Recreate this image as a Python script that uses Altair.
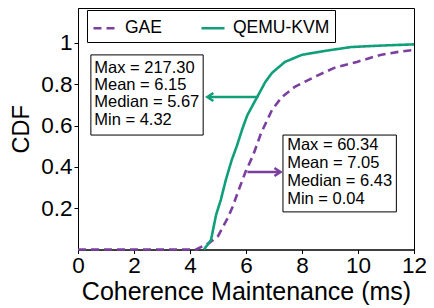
import altair as alt
import pandas as pd

# ---- data ----
series_names = ["GAE", "QEMU-KVM"]
series_colors = ["#7b3fa0", "#119e7a"]

gae_x = [0, 4.22, 4.68, 5.0, 5.35, 5.52, 5.74, 5.98, 6.26, 6.54, 6.76, 6.93, 7.28, 7.74, 8.44, 9.15, 9.96, 10.80, 11.5, 12.0]
gae_y = [0, 0, 0.031, 0.065, 0.153, 0.206, 0.288, 0.375, 0.458, 0.564, 0.627, 0.676, 0.738, 0.787, 0.835, 0.879, 0.908, 0.942, 0.958, 0.966]

qemu_x = [4.5, 4.75, 4.93, 5.10, 5.28, 5.49, 5.67, 5.88, 6.05, 6.40, 6.69, 6.93, 7.39, 7.99, 8.80, 9.75, 10.80, 12.0]
qemu_y = [0, 0.046, 0.167, 0.24, 0.337, 0.433, 0.50, 0.588, 0.651, 0.738, 0.811, 0.855, 0.908, 0.942, 0.961, 0.98, 0.987, 0.993]

x_ticks = [0, 2, 4, 6, 8, 10, 12]
y_ticks = [0.2, 0.4, 0.6, 0.8, 1]

qemu_stats = ["Max = 217.30", "Mean = 6.15", "Median = 5.67", "Min = 4.32"]
gae_stats = ["Max = 60.34", "Mean = 7.05", "Median = 6.43", "Min = 0.04"]

FONT = "Liberation Sans"

lines_df = pd.DataFrame(
    {"x": gae_x + qemu_x, "y": gae_y + qemu_y,
     "series": ["GAE"] * len(gae_x) + ["QEMU-KVM"] * len(qemu_x)}
)

xs = alt.Scale(domain=[0, 12], nice=False)
ys = alt.Scale(domain=[0, 1.169], nice=False)

def make_legend():
    return alt.Legend(title=None, orient="none", legendX=9, legendY=2,
                      direction="horizontal", symbolType="stroke",
                      symbolSize=530, symbolStrokeWidth=2.6,
                      labelFontSize=17.5, labelFont=FONT, labelOffset=7,
                      columnPadding=34, padding=5, strokeColor="black",
                      fillColor="white", labelColor="black")

lines = alt.Chart(lines_df).mark_line(strokeWidth=2.6).encode(
    x=alt.X("x:Q", scale=xs,
            axis=alt.Axis(values=x_ticks, title="Coherence Maintenance (ms)", grid=False,
                          labelFontSize=22.5, titleFontSize=25, tickSize=4, labelPadding=1,
                          labelFlush=False, titlePadding=2, labelFont=FONT, titleFont=FONT,
                          titleFontWeight="normal", domainColor="black", tickColor="black",
                          labelColor="black", titleColor="black")),
    y=alt.Y("y:Q", scale=ys,
            axis=alt.Axis(values=y_ticks, title="CDF", grid=False, format="~g",
                          labelFontSize=22.5, titleFontSize=23.5, tickSize=4, labelPadding=2,
                          labelFlush=False, titlePadding=7, labelFont=FONT, titleFont=FONT,
                          titleFontWeight="normal", domainColor="black", tickColor="black",
                          labelColor="black", titleColor="black")),
    color=alt.Color("series:N", scale=alt.Scale(domain=series_names, range=series_colors),
                    legend=make_legend()),
    strokeDash=alt.StrokeDash("series:N",
                              scale=alt.Scale(domain=series_names, range=[[8, 5], [1, 0]]),
                              legend=make_legend()),
)

# annotation boxes (data coordinates)
boxes_df = pd.DataFrame({"x": [0.46, 7.32], "x2": [4.47, 11.37], "y": [0.942, 0.554], "y2": [0.554, 0.182]})
boxes = alt.Chart(boxes_df).mark_rect(fill="white", stroke="black", strokeWidth=1).encode(
    x=alt.X("x:Q", scale=xs), x2="x2:Q", y=alt.Y("y:Q", scale=ys), y2="y2:Q")

text_df = pd.DataFrame({
    "t": qemu_stats + gae_stats,
    "x": [0.58] * 4 + [7.47] * 4,
    "y": [0.879, 0.797, 0.714, 0.627, 0.506, 0.419, 0.332, 0.245],
})
texts = alt.Chart(text_df).mark_text(align="left", baseline="middle", fontSize=16.5,
                                     font=FONT, color="black").encode(
    x=alt.X("x:Q", scale=xs), y=alt.Y("y:Q", scale=ys), text="t:N")

arrows_df = pd.DataFrame({"x": [6.44, 6.05], "x2": [4.66, 7.19], "y": [0.738, 0.375],
                          "series": ["QEMU-KVM", "GAE"]})
arrow_lines = alt.Chart(arrows_df).mark_rule(strokeWidth=2.6).encode(
    x=alt.X("x:Q", scale=xs), x2="x2:Q", y=alt.Y("y:Q", scale=ys),
    color=alt.Color("series:N", scale=alt.Scale(domain=series_names, range=series_colors), legend=None))

head_left = alt.Chart(pd.DataFrame({"x": [4.62], "y": [0.738]})).mark_point(
    shape="M 1.5 -1 L 0 0 L 1.5 1", size=64, filled=False, strokeWidth=2.6,
    color=series_colors[1], opacity=1).encode(x=alt.X("x:Q", scale=xs), y=alt.Y("y:Q", scale=ys))
head_right = alt.Chart(pd.DataFrame({"x": [7.23], "y": [0.375]})).mark_point(
    shape="M -1.5 -1 L 0 0 L -1.5 1", size=64, filled=False, strokeWidth=2.6,
    color=series_colors[0], opacity=1).encode(x=alt.X("x:Q", scale=xs), y=alt.Y("y:Q", scale=ys))

chart = alt.layer(lines, boxes, texts, arrow_lines, head_left, head_right).properties(
    width=336, height=241.5, autosize=alt.AutoSizeParams(type="none"),
    padding={"left": 70, "top": 0, "right": 12, "bottom": 56}, background="white",
).configure_view(stroke="black", strokeWidth=1)

chart.save("out.html", embed_options={"renderer": "svg", "actions": False})
